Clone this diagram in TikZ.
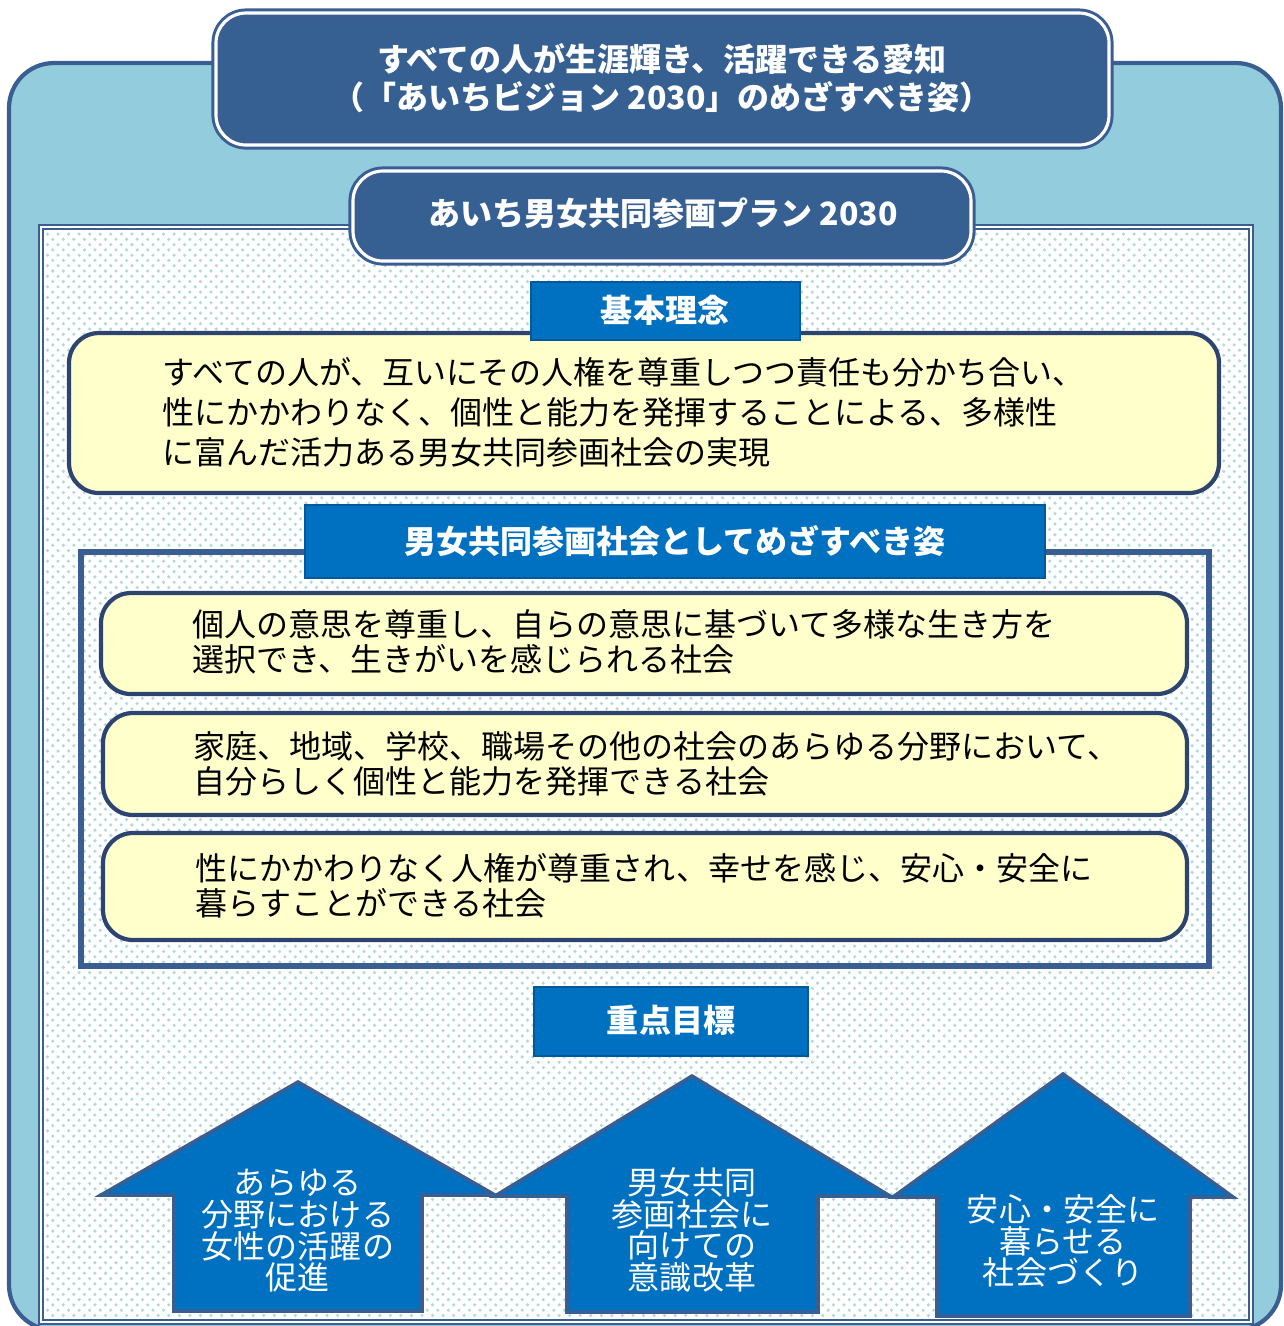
\documentclass[tikz,border=0pt]{standalone}
\usepackage{fontspec}
\setmainfont{Noto Sans CJK JP}
\usetikzlibrary{patterns}

\definecolor{skyfill}{HTML}{93CDDD}
\definecolor{navy}{HTML}{376092}
\definecolor{edgeblue}{HTML}{3A5E92}
\definecolor{labelblue}{HTML}{0070C0}
\definecolor{paleyellow}{HTML}{FFFFCC}
\definecolor{boxedge}{HTML}{2E4470}

\begin{document}
\begin{tikzpicture}[x=0.01cm,y=-0.01cm,
    titlebox/.style={fill=navy,draw=edgeblue,line width=2.6pt,rounded corners=0.3cm},
    titleline/.style={draw=white,line width=0.9pt,rounded corners=0.3cm},
    headtext/.style={text=white,font=\bfseries\fontsize{9.1}{10.6}\selectfont,align=center},
    labelbox/.style={fill=labelblue,draw=labelblue!80!black,line width=0.5pt},
    ideabox/.style={fill=paleyellow,draw=boxedge,line width=1.2pt,rounded corners=0.3cm},
    bodytext/.style={font=\fontsize{9.1}{11.4}\selectfont,align=left,anchor=west,inner sep=0pt},
    goalarrow/.style={fill=labelblue,draw=edgeblue,line width=1pt,line join=miter},
    goaltext/.style={text=white,font=\fontsize{9.1}{9}\selectfont,align=center,inner sep=0pt}]
        % --- 1. Frame of the page ---
        \useasboundingbox (0,0) rectangle (1284,1326);
        \clip (0,0) rectangle (1284,1326);

        % --- 2. Outer vision panel ---
        \draw[fill=skyfill,draw=edgeblue,line width=1.2pt,rounded corners=0.45cm] (9,63) rectangle (1281,1330);
        \draw[titlebox] (216,13) rectangle (1109,145);
        \draw[titleline] (216,13) rectangle (1109,145);
        \node[headtext] (vision) at (662,78) {すべての人が生涯輝き、活躍できる愛知\\（「あいちビジョン 2030」のめざすべき姿）};

        % --- 3. Dotted plan panel ---
        \fill[white] (41,227) rectangle (1251,1322);
        \fill[pattern=crosshatch dots,pattern color=cyan!35!gray!45] (41,227) rectangle (1251,1322);
        \draw[draw=edgeblue,line width=1.6pt] (41,227) rectangle (1251,1322);
        \draw[draw=white,line width=0.5pt] (41,227) rectangle (1251,1322);
        \draw[titlebox] (353,171) rectangle (971,261);
        \draw[titleline] (353,171) rectangle (971,261);
        \node[headtext] (plan) at (663,213) {あいち男女共同参画プラン 2030};

        % --- 4. Basic idea ---
        \draw[ideabox] (69,333) rectangle (1219,493);
        \draw[labelbox] (531,282) rectangle (800,340);
        \node[headtext] (idea) at (665,310) {基本理念};
        \node[bodytext] (ideatext) at (162,412) {すべての人が、互いにその人権を尊重しつつ責任も分かち合い、\\性にかかわりなく、個性と能力を発揮することによる、多様性\\に富んだ活力ある男女共同参画社会の実現};

        % --- 5. Society to aim for ---
        \draw[draw=edgeblue,line width=1.5pt] (81,552) rectangle (1209,966);
        \draw[labelbox] (305,505) rectangle (1045,578);
        \node[headtext] (aim) at (675,541) {男女共同参画社会としてめざすべき姿};

        \draw[ideabox] (101,593) rectangle (1187,694);
        \node[bodytext,font=\fontsize{9.1}{10}\selectfont] (aimone) at (192,642) {個人の意思を尊重し、自らの意思に基づいて多様な生き方を\\選択でき、生きがいを感じられる社会};
        \draw[ideabox] (103,713) rectangle (1187,815);
        \node[bodytext,font=\fontsize{9.1}{10}\selectfont] (aimtwo) at (193,764) {家庭、地域、学校、職場その他の社会のあらゆる分野において、\\自分らしく個性と能力を発揮できる社会};
        \draw[ideabox] (103,833) rectangle (1187,940);
        \node[bodytext,font=\fontsize{9.1}{10}\selectfont] (aimthree) at (195,886) {性にかかわりなく人権が尊重され、幸せを感じ、安心・安全に\\暮らすことができる社会};

        % --- 6. Priority goals ---
        \draw[labelbox] (534,987) rectangle (808,1056);
        \node[headtext] (goals) at (671,1020) {重点目標};

        \draw[goalarrow] (298,1082) -- (495,1195) -- (422,1195) -- (422,1311) -- (174,1311) -- (174,1195) -- (101,1195) -- cycle;
        \node[goaltext] (goalone) at (298,1231) {あらゆる\\分野における\\女性の活躍の\\促進};
        \draw[goalarrow] (692,1076) -- (890,1196) -- (818,1196) -- (818,1312) -- (567,1312) -- (567,1196) -- (495,1196) -- cycle;
        \node[goaltext] (goaltwo) at (692,1230) {男女共同\\参画社会に\\向けての\\意識改革};
        \draw[goalarrow] (1063,1074) -- (1233,1197) -- (1190,1197) -- (1190,1316) -- (937,1316) -- (937,1197) -- (893,1197) -- cycle;
        \node[goaltext] (goalthree) at (1063,1241) {安心・安全に\\暮らせる\\社会づくり};

    \end{tikzpicture}
\end{document}
